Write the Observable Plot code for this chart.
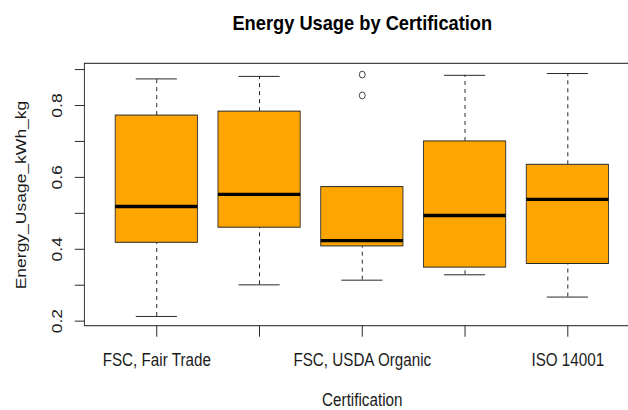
<!DOCTYPE html>
<html>
<head>
<meta charset="utf-8">
<script src="https://cdn.jsdelivr.net/npm/d3@7"></script>
<script src="https://cdn.jsdelivr.net/npm/@observablehq/plot@0.6"></script>
<style>
  html, body { margin: 0; padding: 0; background: #fff; }
  #chart { width: 628px; height: 410px; overflow: hidden; }
</style>
</head>
<body>
<div id="chart"></div>
<script>
// Five certification groups, in factor order
const categories = ["FSC, Fair Trade", "FSC, ISO 14001", "FSC, USDA Organic", "Fair Trade", "ISO 14001"];

// Box-and-whisker statistics for Energy_Usage_kWh_kg per group
const lowerWhisker = [0.213, 0.301, 0.314, 0.329, 0.267];
const lowerQuartile = [0.418, 0.460, 0.408, 0.349, 0.359];
const medians = [0.519, 0.553, 0.424, 0.494, 0.539];
const upperQuartile = [0.772, 0.783, 0.573, 0.700, 0.635];
const upperWhisker = [0.874, 0.881, 0.573, 0.884, 0.889];

// Points beyond the whiskers (group number, value)
const outlierGroup = [3, 3];
const outlierValue = [0.886, 0.828];

// Axis ticks; labels that would collide are left out
const yTicks = [0.2, 0.3, 0.4, 0.5, 0.6, 0.7, 0.8, 0.9];
const yTickLabels = [0.2, 0.4, 0.6, 0.8];
const xTickLabels = ["FSC, Fair Trade", "", "FSC, USDA Organic", "", "ISO 14001"];

const title = "Energy Usage by Certification";
const xTitle = "Certification";
const yTitle = "Energy_Usage_kWh_kg";

const n = categories.length;
const boxes = categories.map((name, k) => ({
  i: k + 1,
  name,
  lo: lowerWhisker[k],
  q1: lowerQuartile[k],
  med: medians[k],
  q3: upperQuartile[k],
  hi: upperWhisker[k]
}));
const outliers = outlierGroup.map((g, k) => ({i: g, value: outlierValue[k]}));

// base-graphics style limits: 4% padding on each side
const xDomain = [0.5 - 0.04 * n, n + 0.5 + 0.04 * n];
const allValues = [...lowerWhisker, ...upperWhisker, ...outlierValue];
const yMin = d3.min(allValues), yMax = d3.max(allValues);
const yPad = 0.04 * (yMax - yMin);
const yDomain = [yMin - yPad, yMax + yPad];

// drawn on a wider canvas, then fitted to 628px wide
const W = 722, H = 410;
const fontFamily = "'Liberation Sans', Arial, Helvetica, sans-serif";
const ink = "#1a1a1a";

const svg = Plot.plot({
  width: W,
  height: H,
  marginLeft: 97,
  marginRight: 0,
  marginTop: 63.3,
  marginBottom: 84.3,
  style: {fontFamily, fontSize: "17.5px", background: "#fff", color: ink},
  x: {type: "linear", domain: xDomain, range: [97, 735]},
  y: {type: "linear", domain: yDomain, range: [325.7, 63.3]},
  marks: [
    // whiskers
    Plot.ruleX(boxes, {x: "i", y1: "q3", y2: "hi", stroke: ink, strokeWidth: 1, strokeDasharray: "4,4"}),
    Plot.ruleX(boxes, {x: "i", y1: "lo", y2: "q1", stroke: ink, strokeWidth: 1, strokeDasharray: "4,4"}),
    // whisker caps
    Plot.ruleY(boxes, {y: "hi", x1: (d) => d.i - 0.2, x2: (d) => d.i + 0.2, stroke: ink, strokeWidth: 1}),
    Plot.ruleY(boxes, {y: "lo", x1: (d) => d.i - 0.2, x2: (d) => d.i + 0.2, stroke: ink, strokeWidth: 1}),
    // boxes
    Plot.rect(boxes, {x1: (d) => d.i - 0.4, x2: (d) => d.i + 0.4, y1: "q1", y2: "q3", fill: "orange", stroke: "#2a2a2a", strokeWidth: 1}),
    // medians
    Plot.ruleY(boxes, {y: "med", x1: (d) => d.i - 0.4, x2: (d) => d.i + 0.4, stroke: "#000", strokeWidth: 3.3}),
    // outliers
    Plot.dot(outliers, {x: "i", y: "value", r: 3.4, fill: "none", stroke: "#333", strokeWidth: 1}),
    // plot frame
    Plot.rect([0], {x1: () => xDomain[0], x2: () => xDomain[1], y1: () => yDomain[0], y2: () => yDomain[1], fill: "none", stroke: ink, strokeWidth: 1}),
    // axes
    Plot.axisX({ticks: boxes.map((d) => d.i), tickSize: 11, tickPadding: 15.9, tickFormat: (v) => xTickLabels[v - 1], label: null, stroke: ink, fill: ink}),
    Plot.axisY({ticks: yTicks, tickSize: 11, tickFormat: () => "", label: null, stroke: ink}),
    Plot.text(yTickLabels, {y: (d) => d, text: (d) => d3.format(".1f")(d), frameAnchor: "left", dx: -31.5, rotate: -90, textAnchor: "middle", lineAnchor: "middle", fill: ink}),
    // titles
    Plot.text([yTitle], {frameAnchor: "left", dx: -73, rotate: -90, textAnchor: "middle", lineAnchor: "middle", fill: ink}),
    Plot.text([xTitle], {x: () => (xDomain[0] + xDomain[1]) / 2, frameAnchor: "bottom", dy: 74.5, textAnchor: "middle", lineAnchor: "middle", fill: ink}),
    Plot.text([title], {x: () => (xDomain[0] + xDomain[1]) / 2, frameAnchor: "top", dy: -40.7, textAnchor: "middle", lineAnchor: "middle", fontSize: 21, fontWeight: "bold", fill: "#000"})
  ]
});

svg.setAttribute("viewBox", `0 0 ${W} ${H}`);
svg.setAttribute("preserveAspectRatio", "none");
svg.setAttribute("width", 628);
svg.setAttribute("height", 410);
svg.style.width = "628px";
svg.style.height = "410px";
svg.style.maxWidth = "none";
document.getElementById("chart").appendChild(svg);
</script>
</body>
</html>
